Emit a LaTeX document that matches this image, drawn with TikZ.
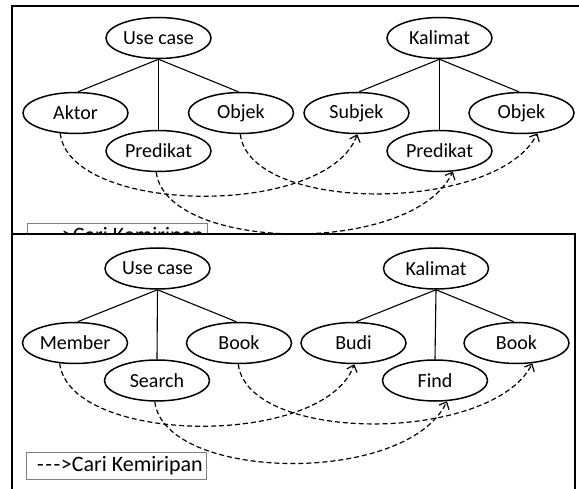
\documentclass[tikz,border=0pt]{standalone}
\usepackage{fontspec}
\setmainfont{Carlito}
\usetikzlibrary{shapes.geometric,arrows.meta}
\tikzset{
	kata/.style={draw, ellipse, line width=1.5pt, minimum width=105pt, minimum height=41pt, inner sep=0pt, font=\fontsize{20}{24}\selectfont},
	cabang/.style={line width=1.1pt},
	mirip/.style={line width=1.2pt, dash pattern=on 5pt off 3pt, -{Straight Barb[length=6pt,width=11pt]}},
	bingkai/.style={line width=2pt},
	ket/.style={draw=gray, line width=0.8pt, minimum width=180pt, minimum height=27pt, inner sep=0pt, font=\fontsize{22}{26}\selectfont}
}
\newcommand{\panah}{\hspace*{8pt}-\kern1.5pt-\kern1.5pt-\kern0.5pt>}

\begin{document}
\begin{tikzpicture}[x=10pt,y=-10pt]
		\useasboundingbox (0,0) rectangle (57.9,48.9);
		\clip (0,0) rectangle (57.9,48.9);
		\fill[white] (0,0) rectangle (57.9,48.9);
		\draw[bingkai] (60,0.6) -| (1.2,23.45);
		\node[kata] (uc1) at (15.85,3.8) {Use case};
		\node[kata] (ak1) at (7.55,11.3) {Aktor};
		\node[kata] (ob1) at (24.1,11.3) {Objek};
		\node[kata] (pr1) at (15.85,15.1) {Predikat};
		\node[kata] (kl1) at (43.95,3.8) {Kalimat};
		\node[kata] (sj1) at (35.65,11.3) {Subjek};
		\node[kata] (ob2) at (52.15,11.3) {Objek};
		\node[kata] (pr2) at (43.95,15.1) {Predikat};
		\draw[cabang] (uc1.south) -- (ak1.83);
		\draw[cabang] (uc1.south) -- (pr1.north);
		\draw[cabang] (uc1.south) -- (ob1.97);
		\draw[cabang] (kl1.south) -- (sj1.83);
		\draw[cabang] (kl1.south) -- (pr2.north);
		\draw[cabang] (kl1.south) -- (ob2.97);
		\draw[mirip] (ak1.-127) .. controls +(1,8.2) and +(-3,8.4) .. (sj1.-88);
		\draw[mirip] (ob1.-92) .. controls +(1,8) and +(-4,8) .. (ob2.-52);
		\draw[mirip] (pr1.-96) .. controls +(1,8) and +(-4,8.5) .. (pr2.-57);
		\node[ket] (ket1) at (11.7,23.65) {\panah Cari Kemiripan};
		
		\draw[bingkai, fill=white] (1.2,23.45) rectangle (57.5,50);
		\node[kata] (uc2) at (15.75,26.85) {Use case};
		\node[kata] (mb) at (7.5,34.3) {Member};
		\node[kata] (bk1) at (23.9,34.3) {Book};
		\node[kata] (sr) at (15.7,38.05) {Search};
		\node[kata] (kl2) at (43.6,26.85) {Kalimat};
		\node[kata] (bd) at (35.35,34.3) {Budi};
		\node[kata] (bk2) at (51.65,34.3) {Book};
		\node[kata] (fd) at (43.5,38.05) {Find};
		\draw[cabang] (uc2.south) -- (mb.83);
		\draw[cabang] (uc2.south) -- (sr.north);
		\draw[cabang] (uc2.south) -- (bk1.97);
		\draw[cabang] (kl2.south) -- (bd.83);
		\draw[cabang] (kl2.south) -- (fd.north);
		\draw[cabang] (kl2.south) -- (bk2.97);
		\draw[mirip] (mb.-127) .. controls +(1,8.2) and +(-3,8.4) .. (bd.-88);
		\draw[mirip] (bk1.-92) .. controls +(1,8) and +(-4,8) .. (bk2.-52);
		\draw[mirip] (sr.-96) .. controls +(1,8) and +(-4,8.5) .. (fd.-60);
		\node[ket] (ket2) at (11.6,46.55) {\panah Cari Kemiripan};
\end{tikzpicture}
\end{document}
